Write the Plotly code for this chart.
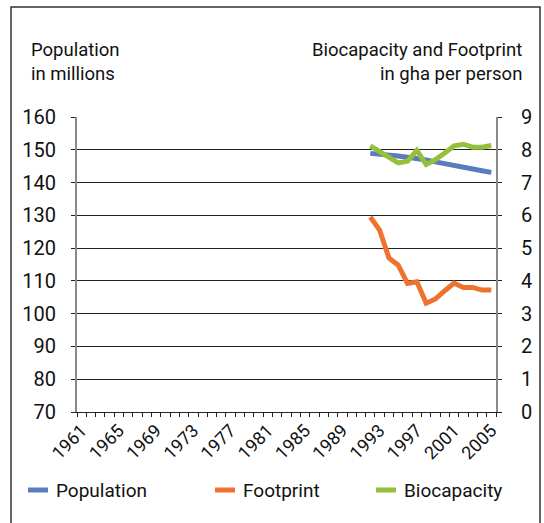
import plotly.graph_objects as go

# data (Russian Federation)
years = list(range(1992, 2006))
population = [148.9, 148.7, 148.4, 148.1, 147.7, 147.4, 146.9, 146.3, 145.7, 145.1, 144.6, 144.1, 143.6, 143.1]
footprint = [5.95, 5.55, 4.70, 4.48, 3.92, 3.97, 3.32, 3.45, 3.70, 3.93, 3.80, 3.80, 3.72, 3.72]
biocapacity = [8.12, 7.95, 7.80, 7.60, 7.65, 7.98, 7.55, 7.70, 7.90, 8.12, 8.17, 8.08, 8.08, 8.13]

series_names = ["Population", "Footprint", "Biocapacity"]
colors = ["#5b7bbd", "#ef7330", "#95c03b"]
year_labels = list(range(1961, 2006, 4))

# plot area in pixels (544 x 523 page)
L, R, T, B = 77, 496, 117, 412
W, H = 544, 523
FONT = "Roboto"
TXT = "#111111"


def px(x):
    return (x - L) / (R - L)


def py(y):
    return (B - y) / (B - T)


fig = go.Figure()
fig.add_trace(go.Scatter(x=years, y=population, name=series_names[0], mode="lines",
                         line=dict(color=colors[0], width=5), yaxis="y"))
fig.add_trace(go.Scatter(x=years, y=footprint, name=series_names[1], mode="lines",
                         line=dict(color=colors[1], width=5), yaxis="y2"))
fig.add_trace(go.Scatter(x=years, y=biocapacity, name=series_names[2], mode="lines",
                         line=dict(color=colors[2], width=5), yaxis="y2"))

# axis titles
annots = [
    dict(text="Population", x=px(29), y=py(50), xanchor="left", font=dict(size=18.5)),
    dict(text="in millions", x=px(29), y=py(74), xanchor="left", font=dict(size=18.5)),
    dict(text="Biocapacity and Footprint", x=px(524), y=py(50), xanchor="right", font=dict(size=18.5)),
    dict(text="in gha per person", x=px(524), y=py(74), xanchor="right", font=dict(size=18.5)),
]

shapes = [dict(type="rect", xref="paper", yref="paper", x0=px(11), x1=px(540), y0=py(540), y1=py(7),
               line=dict(color="#333333", width=1.5), layer="below")]

# manual legend
legend_x = [28, 215, 376]
for name, col, lx in zip(series_names, colors, legend_x):
    shapes.append(dict(type="line", xref="paper", yref="paper", x0=px(lx), x1=px(lx + 20),
                       y0=py(490), y1=py(490), line=dict(color=col, width=5)))
    annots.append(dict(text=name, x=px(lx + 26), y=py(490), xanchor="left", font=dict(size=19)))

for a in annots:
    a.update(xref="paper", yref="paper", yanchor="middle", showarrow=False)
    a["font"].update(family=FONT, color=TXT)

fig.update_layout(
    width=W, height=H,
    margin=dict(l=L, r=W - R, t=T, b=H - B),
    paper_bgcolor="white", plot_bgcolor="white",
    showlegend=False,
    font=dict(family=FONT, size=17, color=TXT),
    annotations=annots, shapes=shapes,
    xaxis=dict(range=[1960.5, 2005.5], tickvals=year_labels, ticktext=[str(y) for y in year_labels],
               tickangle=-45, tickfont=dict(size=18), ticks="", showgrid=False, zeroline=False,
               showline=True, linecolor="#222222", linewidth=1,
               minor=dict(ticks="outside", tick0=1960.5, dtick=1, ticklen=4, tickcolor="#222222",
                          showgrid=False)),
    yaxis=dict(range=[70, 160], dtick=10, showgrid=True, gridcolor="#222222", gridwidth=1,
               zeroline=False, showline=True, linecolor="#8a8a8a", linewidth=2,
               ticks="outside", ticklen=4, tickcolor="#222222", ticklabelstandoff=11,
               tickfont=dict(size=20)),
    yaxis2=dict(range=[0, 9], dtick=1, overlaying="y", side="right", showgrid=False, zeroline=False,
                showline=True, linecolor="#8a8a8a", linewidth=2,
                ticks="outside", ticklen=4, tickcolor="#222222", ticklabelstandoff=15,
                tickfont=dict(size=20)),
)

# drop the browser's default body margin so the figure sits at the page origin
fig.write_html("out.html", config={"displayModeBar": False},
               post_script="document.body.style.margin='0';")
